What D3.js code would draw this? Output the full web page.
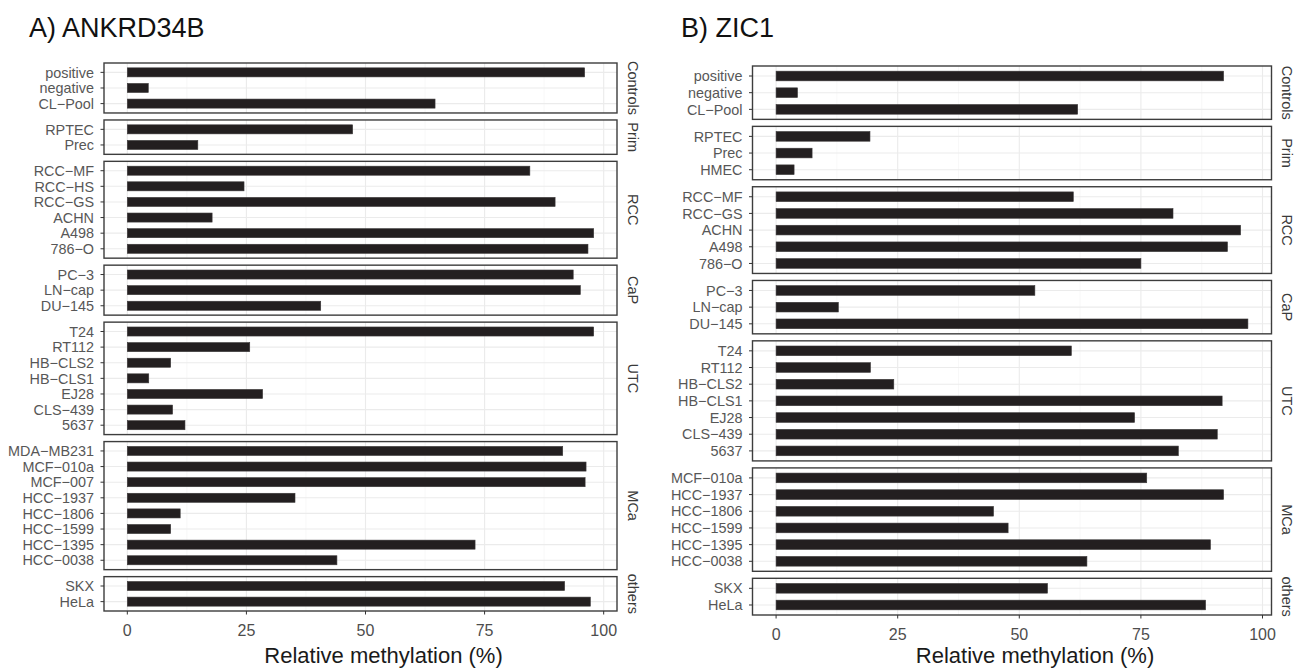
<!DOCTYPE html>
<html>
<head>
<meta charset="utf-8">
<script src="https://cdn.jsdelivr.net/npm/d3@7"></script>
<style>
  body { margin: 0; background: #fff; }
  svg { display: block; font-family: "Liberation Sans", Arial, sans-serif; }
  .grid-major { stroke: #ebebeb; stroke-width: 1.1; }
  .grid-minor { stroke: #f4f4f4; stroke-width: 0.6; }
  .frame { fill: none; stroke: #3d3d3d; stroke-width: 1.4; }
  .tick { stroke: #333; stroke-width: 1; }
  .lbl { fill: #575757; font-size: 14.4px; }
  .xlbl { fill: #4d4d4d; font-size: 16px; }
  .strip { fill: #3a3a3a; font-size: 14.5px; }
</style>
</head>
<body>
<script>
var width = 1295,
    height = 668;

var groups = ["Controls", "Prim", "RCC", "CaP", "UTC", "MCa", "others"];
var xTicks = [0, 25, 50, 75, 100];
var xMinor = [12.5, 37.5, 62.5, 87.5];

// A) ANKRD34B
var ankCells = ["positive", "negative", "CL-Pool",
  "RPTEC", "Prec",
  "RCC-MF", "RCC-HS", "RCC-GS", "ACHN", "A498", "786-O",
  "PC-3", "LN-cap", "DU-145",
  "T24", "RT112", "HB-CLS2", "HB-CLS1", "EJ28", "CLS-439", "5637",
  "MDA-MB231", "MCF-010a", "MCF-007", "HCC-1937", "HCC-1806", "HCC-1599", "HCC-1395", "HCC-0038",
  "SKX", "HeLa"];
var ankGroup = ["Controls", "Controls", "Controls",
  "Prim", "Prim",
  "RCC", "RCC", "RCC", "RCC", "RCC", "RCC",
  "CaP", "CaP", "CaP",
  "UTC", "UTC", "UTC", "UTC", "UTC", "UTC", "UTC",
  "MCa", "MCa", "MCa", "MCa", "MCa", "MCa", "MCa", "MCa",
  "others", "others"];
var ankValues = [96.0, 4.4, 64.6,
  47.3, 14.8,
  84.5, 24.5, 89.8, 17.8, 97.9, 96.7,
  93.6, 95.1, 40.6,
  97.9, 25.7, 9.1, 4.5, 28.4, 9.5, 12.1,
  91.4, 96.3, 96.1, 35.2, 11.1, 9.1, 73.0, 44.0,
  91.8, 97.2];

// B) ZIC1
var zicCells = ["positive", "negative", "CL-Pool",
  "RPTEC", "Prec", "HMEC",
  "RCC-MF", "RCC-GS", "ACHN", "A498", "786-O",
  "PC-3", "LN-cap", "DU-145",
  "T24", "RT112", "HB-CLS2", "HB-CLS1", "EJ28", "CLS-439", "5637",
  "MCF-010a", "HCC-1937", "HCC-1806", "HCC-1599", "HCC-1395", "HCC-0038",
  "SKX", "HeLa"];
var zicGroup = ["Controls", "Controls", "Controls",
  "Prim", "Prim", "Prim",
  "RCC", "RCC", "RCC", "RCC", "RCC",
  "CaP", "CaP", "CaP",
  "UTC", "UTC", "UTC", "UTC", "UTC", "UTC", "UTC",
  "MCa", "MCa", "MCa", "MCa", "MCa", "MCa",
  "others", "others"];
var zicValues = [92.0, 4.4, 62.0,
  19.3, 7.4, 3.7,
  61.1, 81.6, 95.5, 92.8, 75.0,
  53.2, 12.8, 97.0,
  60.7, 19.4, 24.2, 91.7, 73.7, 90.7, 82.7,
  76.2, 92.0, 44.7, 47.7, 89.3, 63.9,
  55.8, 88.3];

var svg = d3.select("body")
  .append("svg")
  .attr("width", width)
  .attr("height", height);

function drawPanel(opt) {
  var rows = opt.cells.map(function(c, i) {
    return { cell: c, group: opt.group[i], value: opt.values[i] };
  });
  var maxV = d3.max(opt.values);
  var x = d3.scaleLinear()
    .domain([-0.05 * maxV, 1.05 * maxV])
    .range([opt.left, opt.right]);

  var gap = 7;
  var facets = groups.map(function(g) {
    return { name: g, rows: rows.filter(function(r) { return r.group === g; }) };
  });
  var units = d3.sum(facets, function(f) { return f.rows.length + 0.2; });
  var u = (opt.bottom - opt.top - gap * (facets.length - 1)) / units;

  var g = svg.append("g");
  var cursor = opt.top;

  facets.forEach(function(f) {
    var h = (f.rows.length + 0.2) * u;
    var y = d3.scalePoint()
      .domain(f.rows.map(function(r) { return r.cell; }))
      .range([cursor, cursor + h])
      .padding(0.6);
    var fg = g.append("g");

    fg.selectAll(".grid-minor")
      .data(xMinor)
      .enter().append("line")
      .attr("class", "grid-minor")
      .attr("x1", function(d) { return x(d); })
      .attr("x2", function(d) { return x(d); })
      .attr("y1", cursor).attr("y2", cursor + h);

    fg.selectAll(".gx")
      .data(xTicks)
      .enter().append("line")
      .attr("class", "grid-major gx")
      .attr("x1", function(d) { return x(d); })
      .attr("x2", function(d) { return x(d); })
      .attr("y1", cursor).attr("y2", cursor + h);

    fg.selectAll(".gy")
      .data(f.rows)
      .enter().append("line")
      .attr("class", "grid-major gy")
      .attr("x1", opt.left).attr("x2", opt.right)
      .attr("y1", function(d) { return y(d.cell); })
      .attr("y2", function(d) { return y(d.cell); });

    var bh = 0.58 * u;
    fg.selectAll("rect.bar")
      .data(f.rows)
      .enter().append("rect")
      .attr("class", "bar")
      .attr("x", x(0))
      .attr("y", function(d) { return y(d.cell) - bh / 2; })
      .attr("width", function(d) { return x(d.value) - x(0); })
      .attr("height", bh)
      .attr("fill", "#231f20")
      .attr("stroke", "#3a3738")
      .attr("stroke-width", 0.6);

    fg.append("rect")
      .attr("class", "frame")
      .attr("x", opt.left).attr("y", cursor)
      .attr("width", opt.right - opt.left).attr("height", h);

    fg.selectAll(".ytick")
      .data(f.rows)
      .enter().append("line")
      .attr("class", "tick ytick")
      .attr("x1", opt.left - 3.5).attr("x2", opt.left)
      .attr("y1", function(d) { return y(d.cell); })
      .attr("y2", function(d) { return y(d.cell); });

    fg.selectAll(".lbl")
      .data(f.rows)
      .enter().append("text")
      .attr("class", "lbl")
      .attr("x", opt.left - 10)
      .attr("y", function(d) { return y(d.cell); })
      .attr("dy", "0.36em")
      .attr("text-anchor", "end")
      .text(function(d) { return d.cell.replace(/-/g, "\u2212"); });

    var cy = cursor + h / 2;
    fg.append("text")
      .attr("class", "strip")
      .attr("text-anchor", "middle")
      .attr("transform", "translate(" + (opt.right + 7) + "," + cy + ") rotate(90)")
      .attr("dy", "-0.25em")
      .text(f.name);

    cursor += h + gap;
  });

  // x axis
  var ax = g.append("g");
  ax.selectAll(".xtick")
    .data(xTicks)
    .enter().append("line")
    .attr("class", "tick xtick")
    .attr("x1", function(d) { return x(d); })
    .attr("x2", function(d) { return x(d); })
    .attr("y1", opt.bottom).attr("y2", opt.bottom + 3.5);
  ax.selectAll(".xlbl")
    .data(xTicks)
    .enter().append("text")
    .attr("class", "xlbl")
    .attr("x", function(d) { return x(d); })
    .attr("y", opt.bottom + 25)
    .attr("text-anchor", "middle")
    .text(function(d) { return d; });

  g.append("text")
    .attr("x", (opt.left + opt.right) / 2 + 23)
    .attr("y", 663)
    .attr("text-anchor", "middle")
    .attr("font-size", 22)
    .attr("fill", "#1a1a1a")
    .text("Relative methylation (%)");

  g.append("text")
    .attr("x", opt.titleX)
    .attr("y", 37)
    .attr("font-size", 27)
    .attr("fill", "#111")
    .text(opt.title);
}

drawPanel({
  title: "A) ANKRD34B", titleX: 29,
  cells: ankCells, group: ankGroup, values: ankValues,
  left: 104, right: 617, top: 63, bottom: 611
});

drawPanel({
  title: "B) ZIC1", titleX: 681,
  cells: zicCells, group: zicGroup, values: zicValues,
  left: 752.5, right: 1271.5, top: 66, bottom: 615
});
</script>
</body>
</html>
